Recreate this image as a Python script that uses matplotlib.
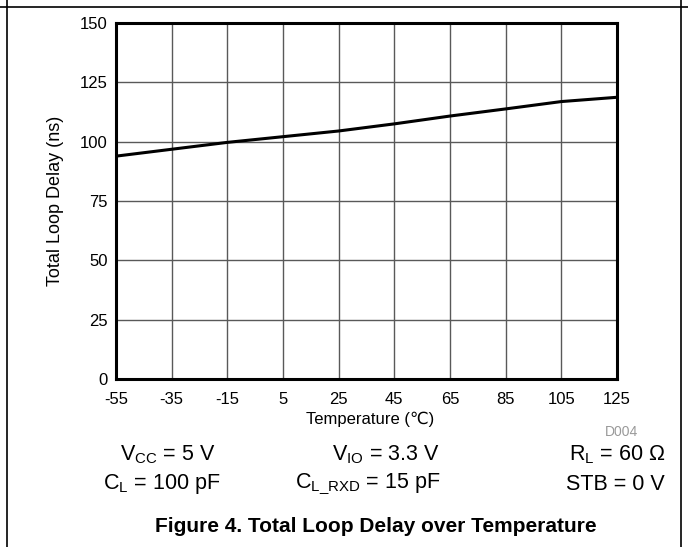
import matplotlib
matplotlib.use('Agg')
import matplotlib.pyplot as plt
from matplotlib.lines import Line2D

plt.rcParams['font.family'] = ['Liberation Sans', 'DejaVu Sans']
plt.rcParams['mathtext.fontset'] = 'custom'
plt.rcParams['mathtext.rm'] = 'Liberation Sans'
plt.rcParams['mathtext.it'] = 'Liberation Sans:italic'
plt.rcParams['axes.unicode_minus'] = False

# data
temperature = [-55, -35, -15, 5, 25, 45, 65, 85, 105, 125]
loop_delay = [93.9, 96.8, 99.7, 102.1, 104.5, 107.5, 110.8, 113.8, 116.9, 118.7]

x_ticks = [-55, -35, -15, 5, 25, 45, 65, 85, 105, 125]
y_ticks = [0, 25, 50, 75, 100, 125, 150]

W, H = 688, 547
fig = plt.figure(figsize=(W / 100, H / 100), dpi=100)

# axes box in pixels: left 116, right 617, top 23, bottom 379
ax = fig.add_axes([116 / W, 1 - 379 / H, (617 - 116) / W, (379 - 23) / H])
ax.plot(temperature, loop_delay, color='black', linewidth=2.2)

ax.set_xlim(-55, 125)
ax.set_ylim(0, 150)
ax.set_xticks(x_ticks)
ax.set_yticks(y_ticks)
ax.grid(True, color='0.35', linewidth=1)
ax.tick_params(length=0, labelsize=12)
ax.tick_params(axis='x', pad=9)
ax.tick_params(axis='y', pad=6)
for s in ax.spines.values():
    s.set_linewidth(2.2)
ax.set_xlabel('Temperature (\u2103)', fontsize=12)
ax.xaxis.set_label_coords((370 - 116) / (617 - 116), -(419 - 379) / (379 - 23))
ax.set_ylabel('Total Loop Delay (ns)', fontsize=13)
ax.yaxis.set_label_coords(-(116 - 56) / (617 - 116), 0.5)
ax.xaxis.label.set_va('center')
ax.yaxis.label.set_va('center')

def ft(x, y, s, **kw):
    fig.text(x / W, 1 - y / H, s, va='center', **kw)

ft(638, 432, 'D004', fontsize=10, color='0.6', ha='right')

# test conditions
ft(168, 455, r'V$_\mathrm{CC}$ = 5 V', fontsize=15.5, ha='center')
ft(440, 455, r'V$_\mathrm{IO}$ = 3.3 V', fontsize=15.5, ha='right')
ft(665, 455, r'R$_\mathrm{L}$ = 60 $\Omega$', fontsize=15.5, ha='right')
ft(162, 484, r'C$_\mathrm{L}$ = 100 pF', fontsize=15.5, ha='center')
ft(440, 484, r'C$_\mathrm{L\_RXD}$ = 15 pF', fontsize=15.5, ha='right')
ft(665, 484, 'STB = 0 V', fontsize=15.5, ha='right')

ft(376, 527, 'Figure 4. Total Loop Delay over Temperature', fontsize=15, ha='center', fontweight='bold')

# page frame lines
fig.add_artist(Line2D([7 / W, 7 / W], [0, 1], color='black', linewidth=1.2))
fig.add_artist(Line2D([681 / W, 681 / W], [0, 1], color='black', linewidth=1.2))
fig.add_artist(Line2D([0, 1], [1 - 7 / H, 1 - 7 / H], color='black', linewidth=1.2))

fig.savefig('out.png', dpi=100)
